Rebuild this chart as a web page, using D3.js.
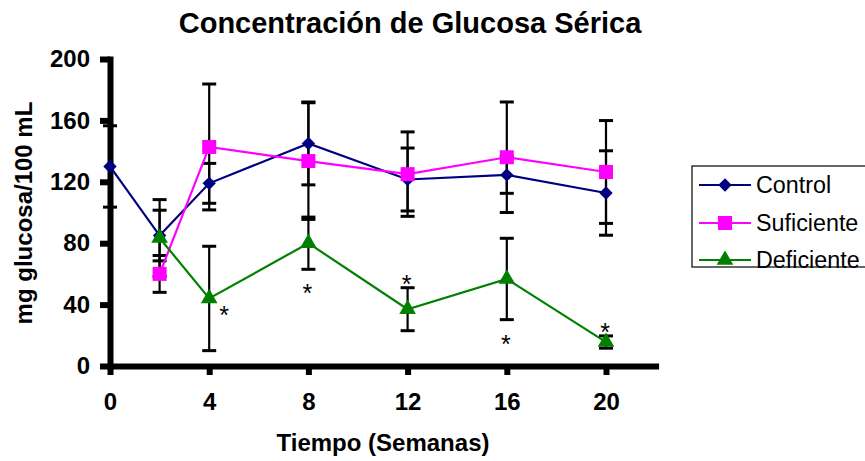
<!DOCTYPE html>
<html>
<head>
<meta charset="utf-8">
<script src="https://cdn.jsdelivr.net/npm/d3@7"></script>
<style>
  html, body { margin: 0; padding: 0; background: #fff; }
  svg { display: block; font-family: Arial, "Liberation Sans", sans-serif; }
</style>
</head>
<body>
<svg id="chart" width="865" height="461"></svg>
<script>
// Serum glucose (mg/100 mL) by week, mean and error per group
const controlWeeks = [0, 2, 4, 8, 12, 16, 20];
const controlMean  = [130, 85, 119, 145, 121.5, 124.5, 112.7];
const controlErr   = [26.5, 16.5, 13, 27, 20.5, 12, 27.5];

const suficienteWeeks = [2, 4, 8, 12, 16, 20];
const suficienteMean  = [60, 142.7, 133.5, 125, 136, 126.4];
const suficienteErr   = [12, 41, 38, 27.5, 36, 33.5];

const deficienteWeeks = [2, 4, 8, 12, 16, 20];
const deficienteMean  = [83.4, 44, 80, 37, 56.7, 15.6];
const deficienteErr   = [25, 34, 17, 14, 26.5, 4];

// Weeks marked as significantly different (Deficiente group)
const signifWeeks = [4, 8, 12, 16, 20];

const xTicks = [0, 4, 8, 12, 16, 20];
const yTicks = [0, 40, 80, 120, 160, 200];

const seriesNames = ["Control", "Suficiente", "Deficiente"];

const titleText = "Concentración de Glucosa Sérica";
const xTitle = "Tiempo (Semanas)";
const yTitle = "mg glucosa/100 mL";

// ---------------------------------------------------------------
const svg = d3.select("#chart");

const x = d3.scaleLinear().domain([0, 22]).range([110, 655.6]);
const y = d3.scaleLinear().domain([0, 200]).range([366, 59]);

// Square diamond (a square turned 45°)
const squareDiamond = {
  draw(context, size) {
    const r = Math.sqrt(size / 2);
    context.moveTo(0, -r);
    context.lineTo(r, 0);
    context.lineTo(0, r);
    context.lineTo(-r, 0);
    context.closePath();
  }
};

const styles = {
  Control:    { color: "#000080", symbol: squareDiamond,     size: 90 },
  Suficiente: { color: "#FF00FF", symbol: d3.symbolSquare,   size: 196 },
  Deficiente: { color: "#008000", symbol: d3.symbolTriangle, size: 120 }
};

function rows(weeks, mean, err) {
  return weeks.map((w, i) => ({ week: w, value: mean[i], err: err[i] }));
}
const series = [
  { name: seriesNames[0], data: rows(controlWeeks, controlMean, controlErr) },
  { name: seriesNames[1], data: rows(suficienteWeeks, suficienteMean, suficienteErr) },
  { name: seriesNames[2], data: rows(deficienteWeeks, deficienteMean, deficienteErr) }
];

// Title
svg.append("text")
  .attr("x", 410).attr("y", 33)
  .attr("text-anchor", "middle")
  .attr("font-size", 29).attr("font-weight", "bold")
  .text(titleText);

// Axes
const xAxis = d3.axisBottom(x).tickValues(xTicks).tickSizeInner(9).tickSizeOuter(0).tickPadding(18);
const yAxis = d3.axisLeft(y).tickValues(yTicks).tickSizeInner(10).tickSizeOuter(0).tickPadding(10);

const gx = svg.append("g").attr("transform", `translate(0,${y(0)})`).call(xAxis);
const gy = svg.append("g").attr("transform", `translate(${x(0)},0)`).call(yAxis);

[gx, gy].forEach(g => {
  g.select(".domain").attr("stroke", "#000").attr("stroke-width", 6).attr("stroke-linecap", "square");
  g.selectAll(".tick line").attr("stroke", "#000").attr("stroke-width", 6);
  g.selectAll(".tick text")
    .attr("font-size", 24).attr("font-weight", "bold")
    .attr("font-family", 'Arial, "Liberation Sans", sans-serif')
    .attr("fill", "#000");
});

// Axis titles
svg.append("text")
  .attr("x", 383).attr("y", 451)
  .attr("text-anchor", "middle")
  .attr("font-size", 24).attr("font-weight", "bold")
  .text(xTitle);

svg.append("text")
  .attr("transform", `translate(32,213) rotate(-90)`)
  .attr("text-anchor", "middle")
  .attr("font-size", 24).attr("font-weight", "bold")
  .text(yTitle);

// Error bars
const capHalf = 7;
const errG = svg.append("g").attr("stroke", "#000").attr("stroke-width", 2.2).attr("fill", "none");
series.forEach(s => {
  s.data.forEach(d => {
    const cx = x(d.week), yt = y(d.value + d.err), yb = y(d.value - d.err);
    errG.append("line").attr("x1", cx).attr("x2", cx).attr("y1", yt).attr("y2", yb);
    errG.append("line").attr("x1", cx - capHalf).attr("x2", cx + capHalf).attr("y1", yt).attr("y2", yt).attr("stroke-width", 3);
    errG.append("line").attr("x1", cx - capHalf).attr("x2", cx + capHalf).attr("y1", yb).attr("y2", yb).attr("stroke-width", 3);
  });
});

// Lines and markers
const line = d3.line().x(d => x(d.week)).y(d => y(d.value));
series.forEach(s => {
  const st = styles[s.name];
  svg.append("path")
    .datum(s.data)
    .attr("d", line)
    .attr("fill", "none")
    .attr("stroke", st.color)
    .attr("stroke-width", 2.2);
});
series.forEach(s => {
  const st = styles[s.name];
  const sym = d3.symbol().type(st.symbol).size(st.size);
  svg.append("g").selectAll("path")
    .data(s.data)
    .join("path")
    .attr("transform", d => `translate(${x(d.week)},${y(d.value)})`)
    .attr("d", sym)
    .attr("fill", st.color);
});

// Significance asterisks, placed beside the Deficiente error bars
const defByWeek = new Map(series[2].data.map(d => [d.week, d]));
const starPlacement = { 4: "right", 8: "below", 12: "above", 16: "below", 20: "above" };
signifWeeks.forEach(w => {
  const d = defByWeek.get(w);
  let sx = x(w) - 1, sy;
  const side = starPlacement[w];
  if (side === "right") { sx = x(w) + 15; sy = y(d.value) + 12; }
  else if (side === "below") { sy = y(d.value - d.err) + 19; }
  else { sy = y(d.value + d.err) - 9; }
  svg.append("text")
    .attr("x", sx).attr("y", sy + 14)
    .attr("text-anchor", "middle")
    .attr("font-size", 25)
    .text("*");
});

// Legend
const lg = svg.append("g");
lg.append("rect")
  .attr("x", 692).attr("y", 166).attr("width", 200).attr("height", 101)
  .attr("fill", "#fff").attr("stroke", "#000").attr("stroke-width", 1.2);
const legendRowY = [185, 223, 260];
series.forEach((s, i) => {
  const st = styles[s.name];
  const ry = legendRowY[i];
  lg.append("line").attr("x1", 699).attr("x2", 751).attr("y1", ry).attr("y2", ry)
    .attr("stroke", st.color).attr("stroke-width", 2.2);
  lg.append("path").attr("transform", `translate(725,${ry})`)
    .attr("d", d3.symbol().type(st.symbol).size(st.size)).attr("fill", st.color);
  lg.append("text").attr("x", 756).attr("y", ry).attr("dy", "0.35em")
    .attr("font-size", 23.3).text(s.name);
});
</script>
</body>
</html>
